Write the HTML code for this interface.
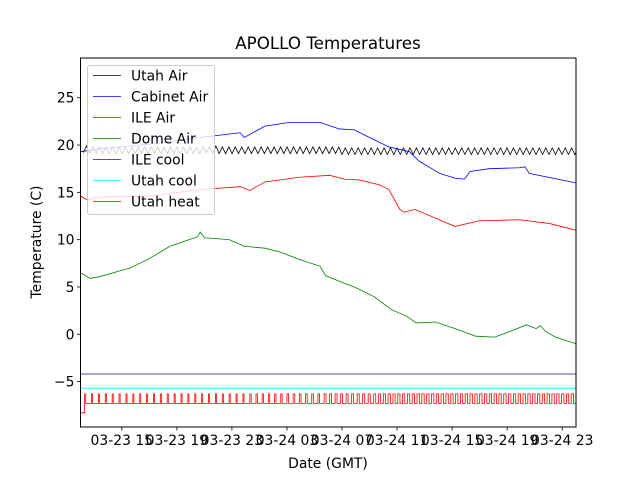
<!DOCTYPE html>
<html><head><meta charset="utf-8"><style>
html,body{margin:0;padding:0;background:#fff;}
svg{display:block;font-family:"DejaVu Sans","Liberation Sans",sans-serif;}
</style></head><body>
<svg id="chart" width="640" height="480" viewBox="0 0 640 480">
<rect x="0" y="0" width="640" height="480" fill="#fff"/>
<text x="328" y="49" text-anchor="middle" font-size="16.7">APOLLO Temperatures</text>
<text x="0" y="0" transform="translate(41,242) rotate(-90)" text-anchor="middle" font-size="13.9">Temperature (C)</text>
<text x="328" y="468" text-anchor="middle" font-size="13.9">Date (GMT)</text>
<defs><clipPath id="pc"><rect x="80.5" y="58" width="495.5" height="369"/></clipPath></defs>
<g id="plot" clip-path="url(#pc)"></g>
<g id="axes"></g>
<g id="legend"></g>
</svg>
<script>
const xTickHours=[15,19,23,27,31,35,39,43,47];
const xTickLabels=["03-23 15","03-23 19","03-23 23","03-24 03","03-24 07","03-24 11","03-24 15","03-24 19","03-24 23"];
const yTicks=[-5,0,5,10,15,20,25];
const cabinetT=[12,13.4,17,20.7,23.6,23.9,25.4,27.2,29.4,30.8,31.9,33,34.4,35.9,36.6,38.1,39.2,39.9,40.3,41.7,43.9,44.3,44.6,48];
const cabinetV=[19.3,19.6,20.1,20.8,21.3,20.8,22,22.4,22.4,21.7,21.6,20.8,19.8,19.3,18.3,17,16.5,16.4,17.2,17.5,17.6,17.7,17,16];
const ileAirT=[12,12.5,13.4,17,20.7,23.6,24.3,25.4,27.9,30.1,31.2,32.3,33.7,34.4,35.2,35.5,36.3,39.2,41,43.9,46.1,48];
const ileAirV=[14.6,14.2,14.5,14.6,15.3,15.6,15.2,16.1,16.6,16.8,16.4,16.3,15.8,15.3,13.2,12.9,13.2,11.4,12,12.1,11.7,11];
const domeT=[12,12.7,13.4,15.6,17,18.5,19.9,20.5,20.7,21,22.8,23.9,25.4,26.5,27.9,29.4,29.8,30.8,31.9,33.3,34.6,35.7,36.4,37.8,39.6,40.7,42.1,43.2,44.4,45.1,45.4,45.8,46.5,48];
const domeV=[6.5,5.9,6.1,7.0,8.0,9.3,10,10.3,10.8,10.2,10,9.3,9.1,8.7,7.9,7.2,6.2,5.6,5.0,4.0,2.6,1.9,1.2,1.3,0.4,-0.2,-0.3,0.3,1.0,0.6,0.9,0.3,-0.3,-1.0];
const utahAirStart=12.2, utahAirStep=0.235;
const utahAirV=[19.2,19.9,19.1,19.8,19.1,19.8,19.1,19.8,19.1,19.8,19.1,19.8,19.1,19.8,19.1,19.8,19.1,19.8,19.1,19.8,19.1,19.8,19.1,19.8,19.1,19.8,19.1,19.8,19.1,19.8,19.1,19.8,19.1,19.8,19.1,19.8,19.1,19.8,19.2,19.8,19.1,19.9,19.1,19.8,19.1,19.8,19.1,19.8,19.1,19.8,19.1,19.8,19.1,19.8,19.1,19.8,19.1,19.8,19.1,19.8,19.1,19.8,19.1,19.8,19.1,19.8,19.1,19.8,19.1,19.8,19.1,19.8,19.1,19.8,19.1,19.8,19.1,19.8,19.1,19.8,19.0,19.7,19.0,19.7,19.0,19.7,19.0,19.7,19.0,19.7,19.0,19.7,19.0,19.7,19.0,19.7,19.0,19.7,19.0,19.7,19.0,19.7,19.0,19.7,19.0,19.7,19.0,19.7,19.0,19.7,19.0,19.7,19.0,19.7,19.0,19.7,19.0,19.7,19.0,19.7,19.0,19.7,19.0,19.7,19.0,19.7,19.0,19.7,19.0,19.7,19.0,19.7,19.0,19.7,19.0,19.7,19.0,19.7,19.0,19.7,19.0,19.7,19.0,19.7,19.0,19.7,19.0,19.7,19.0,19.7,19.0,19.7,19.0,19.7,19.0,19.7,19.0,19.7];
const ileCoolV=-4.2;
const utahCoolV=-5.7;
const utahHeatLow=-7.3, utahHeatHigh=-6.3, utahHeatInit=-8.3;
const utahHeatOn=[12.3,12.8,13.3,13.8,14.3,14.8,15.3,15.8,16.3,16.8,17.3,17.8,18.3,18.8,19.3,19.8,20.3,20.8,21.3,21.8,22.3,22.8,23.3,23.8,24.3,24.75,25.2,25.65,26.1,26.55,27.0,27.45,27.9,28.35,28.8,29.25,29.7,30.1,30.5,30.9,31.3,31.7,32.1,32.5,32.9,33.3,33.65,34.0,34.35,34.7,35.05,35.4,35.75,36.1,36.45,36.8,37.15,37.5,37.85,38.2,38.55,38.9,39.25,39.6,39.95,40.3,40.65,41.0,41.35,41.7,42.05,42.4,42.75,43.1,43.45,43.8,44.15,44.5,44.85,45.2,45.55,45.9,46.25,46.6,46.95,47.3,47.65];
const utahHeatDur=[0.08,0.08,0.08,0.08,0.08,0.08,0.08,0.08,0.08,0.08,0.08,0.08,0.08,0.08,0.08,0.08,0.08,0.08,0.08,0.08,0.08,0.08,0.08,0.08,0.1,0.1,0.1,0.1,0.1,0.1,0.12,0.12,0.12,0.12,0.12,0.12,0.14,0.14,0.14,0.14,0.14,0.14,0.15,0.15,0.15,0.15,0.16,0.16,0.16,0.16,0.16,0.16,0.17,0.17,0.17,0.17,0.17,0.17,0.17,0.17,0.17,0.17,0.17,0.17,0.17,0.17,0.17,0.17,0.17,0.17,0.17,0.17,0.17,0.17,0.17,0.17,0.17,0.17,0.17,0.17,0.17,0.17,0.17,0.17,0.17,0.17,0.17];

const NS="http://www.w3.org/2000/svg";
const L=80.5,R=576,T=58,B=427;
const H0=12,H1=48, Y0=-9.8, Y1=29.2;
const xs=h=>L+(h-H0)/(H1-H0)*(R-L);
const ys=v=>B-(v-Y0)/(Y1-Y0)*(B-T);
function mk(tag,attrs,parent){const e=document.createElementNS(NS,tag);for(const k in attrs)e.setAttribute(k,attrs[k]);parent.appendChild(e);return e;}
const plot=document.getElementById('plot'),axes=document.getElementById('axes'),leg=document.getElementById('legend');
function line(ts,vs,color,name){
  const d=ts.map((t,i)=>(i?'L':'M')+xs(t).toFixed(2)+' '+ys(vs[i]).toFixed(2)).join(' ');
  const p=mk('path',{d:d,fill:'none',stroke:color,'stroke-width':0.8},plot);
  
  
}
const uaT=utahAirV.map((v,i)=>utahAirStart+i*utahAirStep);
line(uaT,utahAirV,'#000','utah-air-line');
line(cabinetT,cabinetV,'#0000ff','cabinet-air-line');
line(ileAirT,ileAirV,'#ff0000','ile-air-line');
line(domeT,domeV,'#008000','dome-air-line');
line([H0,H1],[ileCoolV,ileCoolV],'#191970','ile-cool-line');
line([H0,H1],[utahCoolV,utahCoolV],'#00ffff','utah-cool-line');
const hT=[H0,utahHeatOn[0]],hV=[utahHeatInit,utahHeatInit];
utahHeatOn.forEach((t,i)=>{hT.push(t,t,t+utahHeatDur[i],t+utahHeatDur[i]);hV.push(utahHeatLow,utahHeatHigh,utahHeatHigh,utahHeatLow);});
hT.push(H1);hV.push(utahHeatLow);
line(hT,hV,'#ff0000','utah-heat-line');
const fr=mk('rect',{x:L,y:T,width:R-L,height:B-T,fill:'none',stroke:'#000','stroke-width':1},axes);


yTicks.forEach(v=>{
  const y=ys(v);
  const tk=mk('line',{x1:L-3.5,x2:L,y1:y,y2:y,stroke:'#000','stroke-width':0.8},axes);
  
  
  const tx=mk('text',{x:L-6,y:y+5,'text-anchor':'end','font-size':13.9},axes);
  tx.textContent=v<0?'\u2212'+Math.abs(v):String(v);
  
  
});
xTickHours.forEach((h,i)=>{
  const x=xs(h);
  const tk=mk('line',{x1:x,x2:x,y1:B,y2:B+3.5,stroke:'#000','stroke-width':0.8},axes);
  
  
  const tx=mk('text',{x:x,y:B+18,'text-anchor':'middle','font-size':13.9},axes);
  tx.textContent=xTickLabels[i];
  
  
});
const legNames=["Utah Air","Cabinet Air","ILE Air","Dome Air","ILE cool","Utah cool","Utah heat"];
const legColors=["#000","#0000ff","#ff0000","#008000","#191970","#00ffff","#ff0000"];
const bx=mk('rect',{x:87.5,y:65.5,width:127,height:149,rx:2,fill:'#fff','fill-opacity':0.8,stroke:'#ccc','stroke-width':1},leg);


legNames.forEach((n,i)=>{
  const y=75.5+i*21;
  const g=mk('g',{},leg);
  
  
  mk('line',{x1:93,x2:121,y1:y,y2:y,stroke:legColors[i],'stroke-width':0.8},g);
  const t=mk('text',{x:131,y:y+5,'font-size':13.9},g);
  t.textContent=n;
});
</script>
</body></html>
